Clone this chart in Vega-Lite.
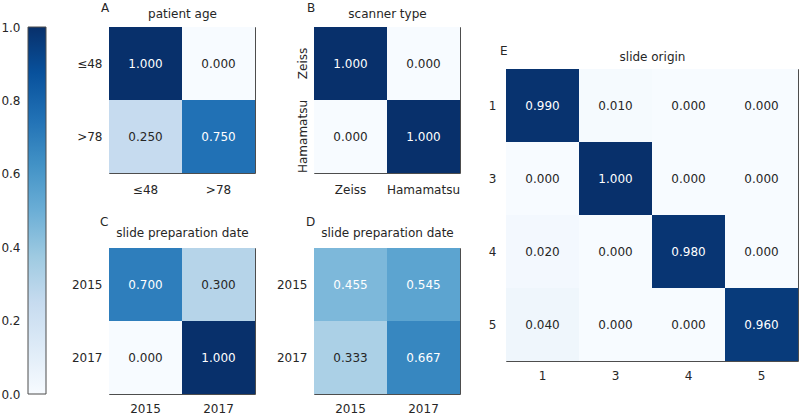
{
  "$schema": "https://vega.github.io/schema/vega-lite/v6.json",
  "padding": {"left": 0, "top": 1, "right": 0, "bottom": 0},
  "background": "white",
  "config": {
    "font": "DejaVu Sans",
    "view": {"stroke": "#4d4d4d", "strokeWidth": 1},
    "axis": {"labelFont": "DejaVu Sans", "labelFontSize": 12, "labelColor": "#262626", "ticks": false, "domain": false, "grid": false, "titleFont": "DejaVu Sans", "titleFontSize": 12, "titleFontWeight": "normal", "titleColor": "#262626"},
    "title": {"font": "DejaVu Sans", "fontSize": 12, "fontWeight": "normal", "color": "#262626", "anchor": "start", "frame": "group"},
    "text": {"font": "DejaVu Sans", "fontSize": 12},
    "scale": {"bandPaddingInner": 0, "bandPaddingOuter": 0}
  },
  "bounds": "full",
  "spacing": 26,
  "hconcat": [
    {
      "bounds": "full",
      "spacing": 23,
      "hconcat": [
        {
          "width": 18,
          "height": 367,
          "view": {"stroke": null},
          "data": {"values": [{"lo": 0, "hi": 1}]},
          "mark": {"type": "rect", "stroke": "#4d4d4d", "strokeWidth": 1,
            "fill": {"gradient": "linear", "x1": 0, "y1": 1, "x2": 0, "y2": 0,
              "stops": [
                {"offset": 0, "color": "#f7fbff"}, {"offset": 0.125, "color": "#deebf7"}, {"offset": 0.25, "color": "#c6dbef"},
                {"offset": 0.375, "color": "#9ecae1"}, {"offset": 0.5, "color": "#6baed6"}, {"offset": 0.625, "color": "#4292c6"},
                {"offset": 0.75, "color": "#2171b5"}, {"offset": 0.875, "color": "#08519c"}, {"offset": 1, "color": "#08306b"}]}},
          "encoding": {
            "y": {"field": "lo", "type": "quantitative", "scale": {"domain": [0, 1], "nice": false}, "axis": {"values": [0, 0.2, 0.4, 0.6, 0.8, 1], "format": ".1f", "labelPadding": 8, "title": null}},
            "y2": {"field": "hi"}
          }
        },
        {
          "bounds": "full",
          "spacing": 19,
          "vconcat": [
            {
              "bounds": "flush",
              "spacing": 59,
              "hconcat": [
                {
                  "width": 146, "height": 146,
                  "title": {"text": "A", "dx": -8, "offset": -7},
                  "data": {"values": [
                    {"actual": "≤48", "predicted": "≤48", "value": 1.0},
                    {"actual": "≤48", "predicted": ">78", "value": 0.0},
                    {"actual": ">78", "predicted": "≤48", "value": 0.25},
                    {"actual": ">78", "predicted": ">78", "value": 0.75}]},
                  "encoding": {
                    "x": {"field": "predicted", "type": "nominal", "sort": ["≤48", ">78"], "axis": {"labelAngle": 0, "labelPadding": 11, "title": null}},
                    "y": {"field": "actual", "type": "nominal", "sort": ["≤48", ">78"], "axis": {"labelPadding": 7, "title": null}}
                  },
                  "layer": [
                    {"mark": "rect", "encoding": {"color": {"field": "value", "type": "quantitative", "legend": null,
                      "scale": {"type": "linear", "interpolate": "rgb", "domain": [0, 0.125, 0.25, 0.375, 0.5, 0.625, 0.75, 0.875, 1],
                        "range": ["#f7fbff", "#deebf7", "#c6dbef", "#9ecae1", "#6baed6", "#4292c6", "#2171b5", "#08519c", "#08306b"]}}}},
                    {"mark": "text", "encoding": {
                      "x": {"field": "predicted", "type": "nominal", "sort": ["≤48", ">78"], "axis": {"orient": "top", "labels": false, "title": "patient age", "titlePadding": 9.5, "titleBaseline": "alphabetic"}},
                      "text": {"field": "value", "type": "quantitative", "format": ".3f"},
                      "color": {"condition": {"test": "datum.value > 0.5", "value": "#ffffff"}, "value": "#262626"}}}
                  ],
                  "resolve": {"axis": {"x": "independent"}}
                },
                {
                  "width": 146, "height": 146,
                  "title": {"text": "B", "dx": -7, "offset": -7},
                  "data": {"values": [
                    {"actual": "Zeiss", "predicted": "Zeiss", "value": 1.0},
                    {"actual": "Zeiss", "predicted": "Hamamatsu", "value": 0.0},
                    {"actual": "Hamamatsu", "predicted": "Zeiss", "value": 0.0},
                    {"actual": "Hamamatsu", "predicted": "Hamamatsu", "value": 1.0}]},
                  "encoding": {
                    "x": {"field": "predicted", "type": "nominal", "sort": ["Zeiss", "Hamamatsu"], "axis": {"labelAngle": 0, "labelPadding": 11, "title": null}},
                    "y": {"field": "actual", "type": "nominal", "sort": ["Zeiss", "Hamamatsu"], "axis": {"labelAngle": -90, "labelPadding": 5, "title": null}}
                  },
                  "layer": [
                    {"mark": "rect", "encoding": {"color": {"field": "value", "type": "quantitative", "legend": null,
                      "scale": {"type": "linear", "interpolate": "rgb", "domain": [0, 0.125, 0.25, 0.375, 0.5, 0.625, 0.75, 0.875, 1],
                        "range": ["#f7fbff", "#deebf7", "#c6dbef", "#9ecae1", "#6baed6", "#4292c6", "#2171b5", "#08519c", "#08306b"]}}}},
                    {"mark": "text", "encoding": {
                      "x": {"field": "predicted", "type": "nominal", "sort": ["Zeiss", "Hamamatsu"], "axis": {"orient": "top", "labels": false, "title": "scanner type", "titlePadding": 9.5, "titleBaseline": "alphabetic"}},
                      "text": {"field": "value", "type": "quantitative", "format": ".3f"},
                      "color": {"condition": {"test": "datum.value > 0.5", "value": "#ffffff"}, "value": "#262626"}}}
                  ],
                  "resolve": {"axis": {"x": "independent"}}
                }
              ]
            },
            {
              "bounds": "flush",
              "spacing": 59,
              "hconcat": [
                {
                  "width": 146, "height": 146,
                  "title": {"text": "C", "dx": -9, "offset": -2},
                  "data": {"values": [
                    {"actual": "2015", "predicted": "2015", "value": 0.7},
                    {"actual": "2015", "predicted": "2017", "value": 0.3},
                    {"actual": "2017", "predicted": "2015", "value": 0.0},
                    {"actual": "2017", "predicted": "2017", "value": 1.0}]},
                  "encoding": {
                    "x": {"field": "predicted", "type": "nominal", "sort": ["2015", "2017"], "axis": {"labelAngle": 0, "labelPadding": 9.5, "title": null}},
                    "y": {"field": "actual", "type": "nominal", "sort": ["2015", "2017"], "axis": {"labelPadding": 7, "title": null}}
                  },
                  "layer": [
                    {"mark": "rect", "encoding": {"color": {"field": "value", "type": "quantitative", "legend": null,
                      "scale": {"type": "linear", "interpolate": "rgb", "domain": [0, 0.125, 0.25, 0.375, 0.5, 0.625, 0.75, 0.875, 1],
                        "range": ["#f7fbff", "#deebf7", "#c6dbef", "#9ecae1", "#6baed6", "#4292c6", "#2171b5", "#08519c", "#08306b"]}}}},
                    {"mark": "text", "encoding": {
                      "x": {"field": "predicted", "type": "nominal", "sort": ["2015", "2017"], "axis": {"orient": "top", "labels": false, "title": "slide preparation date", "titlePadding": 11.5, "titleBaseline": "alphabetic"}},
                      "text": {"field": "value", "type": "quantitative", "format": ".3f"},
                      "color": {"condition": {"test": "datum.value > 0.5", "value": "#ffffff"}, "value": "#262626"}}}
                  ],
                  "resolve": {"axis": {"x": "independent"}}
                },
                {
                  "width": 146, "height": 146,
                  "title": {"text": "D", "dx": -8, "offset": -2},
                  "data": {"values": [
                    {"actual": "2015", "predicted": "2015", "value": 0.455},
                    {"actual": "2015", "predicted": "2017", "value": 0.545},
                    {"actual": "2017", "predicted": "2015", "value": 0.333},
                    {"actual": "2017", "predicted": "2017", "value": 0.667}]},
                  "encoding": {
                    "x": {"field": "predicted", "type": "nominal", "sort": ["2015", "2017"], "axis": {"labelAngle": 0, "labelPadding": 9.5, "title": null}},
                    "y": {"field": "actual", "type": "nominal", "sort": ["2015", "2017"], "axis": {"labelPadding": 7, "title": null}}
                  },
                  "layer": [
                    {"mark": "rect", "encoding": {"color": {"field": "value", "type": "quantitative", "legend": null,
                      "scale": {"type": "linear", "interpolate": "rgb", "domain": [0, 0.125, 0.25, 0.375, 0.5, 0.625, 0.75, 0.875, 1],
                        "range": ["#f7fbff", "#deebf7", "#c6dbef", "#9ecae1", "#6baed6", "#4292c6", "#2171b5", "#08519c", "#08306b"]}}}},
                    {"mark": "text", "encoding": {
                      "x": {"field": "predicted", "type": "nominal", "sort": ["2015", "2017"], "axis": {"orient": "top", "labels": false, "title": "slide preparation date", "titlePadding": 11.5, "titleBaseline": "alphabetic"}},
                      "text": {"field": "value", "type": "quantitative", "format": ".3f"},
                      "color": {"condition": {"test": "datum.value > 0.34", "value": "#ffffff"}, "value": "#262626"}}}
                  ],
                  "resolve": {"axis": {"x": "independent"}}
                }
              ]
            }
          ]
        }
      ]
    },
    {
      "bounds": "flush",
      "spacing": 0,
      "vconcat": [
        {"width": 1, "height": 42, "view": {"stroke": null}, "data": {"values": []}, "mark": "point", "encoding": {}},
        {
          "width": 292, "height": 292,
          "title": {"text": "E", "dx": -6, "offset": -7.5},
          "data": {"values": [
            {"actual": "1", "predicted": "1", "value": 0.99},
            {"actual": "1", "predicted": "3", "value": 0.01},
            {"actual": "1", "predicted": "4", "value": 0.0},
            {"actual": "1", "predicted": "5", "value": 0.0},
            {"actual": "3", "predicted": "1", "value": 0.0},
            {"actual": "3", "predicted": "3", "value": 1.0},
            {"actual": "3", "predicted": "4", "value": 0.0},
            {"actual": "3", "predicted": "5", "value": 0.0},
            {"actual": "4", "predicted": "1", "value": 0.02},
            {"actual": "4", "predicted": "3", "value": 0.0},
            {"actual": "4", "predicted": "4", "value": 0.98},
            {"actual": "4", "predicted": "5", "value": 0.0},
            {"actual": "5", "predicted": "1", "value": 0.04},
            {"actual": "5", "predicted": "3", "value": 0.0},
            {"actual": "5", "predicted": "4", "value": 0.0},
            {"actual": "5", "predicted": "5", "value": 0.96}]},
          "encoding": {
            "x": {"field": "predicted", "type": "nominal", "sort": ["1", "3", "4", "5"], "axis": {"labelAngle": 0, "labelPadding": 9.5, "title": null}},
            "y": {"field": "actual", "type": "nominal", "sort": ["1", "3", "4", "5"], "axis": {"labelPadding": 10, "title": null}}
          },
          "layer": [
            {"mark": "rect", "encoding": {"color": {"field": "value", "type": "quantitative", "legend": null,
              "scale": {"type": "linear", "interpolate": "rgb", "domain": [0, 0.125, 0.25, 0.375, 0.5, 0.625, 0.75, 0.875, 1],
                "range": ["#f7fbff", "#deebf7", "#c6dbef", "#9ecae1", "#6baed6", "#4292c6", "#2171b5", "#08519c", "#08306b"]}}}},
            {"mark": "text", "encoding": {
              "x": {"field": "predicted", "type": "nominal", "sort": ["1", "3", "4", "5"], "axis": {"orient": "top", "labels": false, "title": "slide origin", "titlePadding": 9, "titleBaseline": "alphabetic"}},
              "text": {"field": "value", "type": "quantitative", "format": ".3f"},
              "color": {"condition": {"test": "datum.value > 0.5", "value": "#ffffff"}, "value": "#262626"}}}
          ],
          "resolve": {"axis": {"x": "independent"}}
        }
      ]
    }
  ]
}
